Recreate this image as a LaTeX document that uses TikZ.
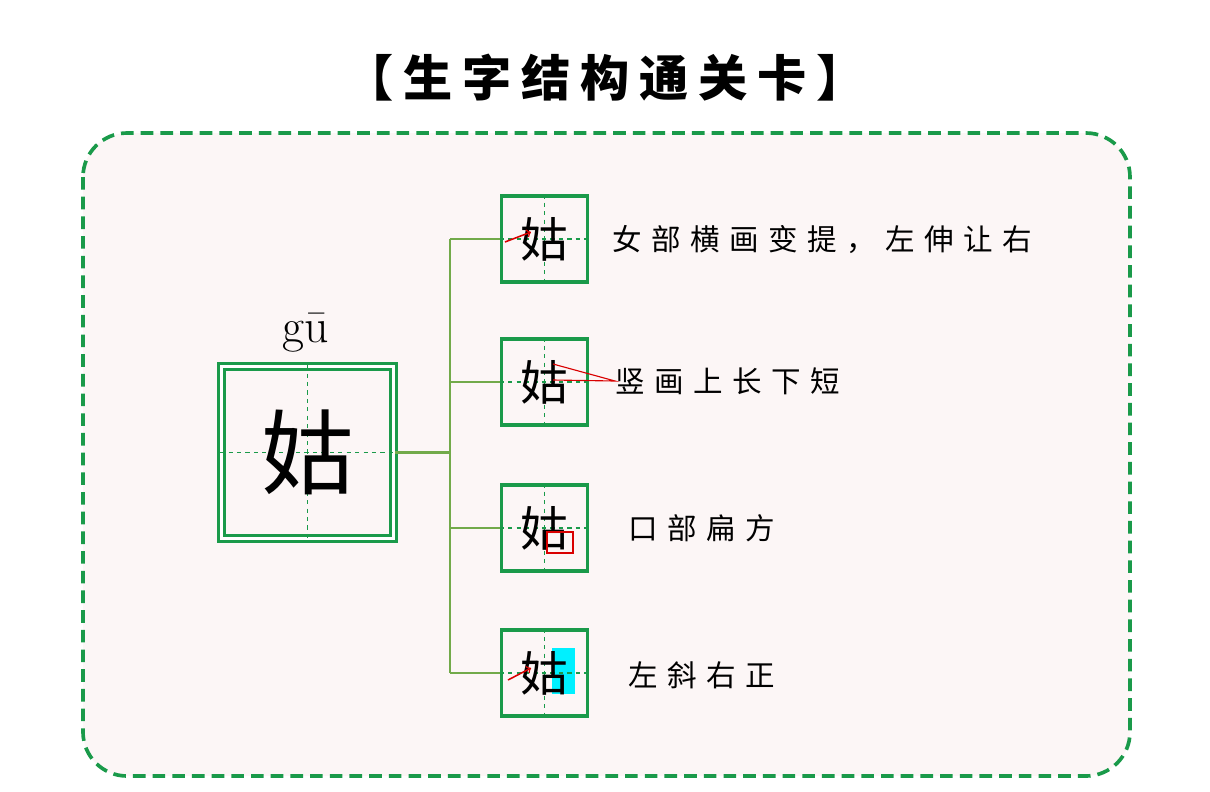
\documentclass[tikz,border=0pt]{standalone}
\usepackage{fontspec}
\usetikzlibrary{positioning}
\newfontfamily\cjk{Noto Sans CJK SC}
\newfontfamily\cjkwide[LetterSpace=32]{Noto Sans CJK SC}
\newfontfamily\cjktitle[LetterSpace=20]{Noto Sans CJK SC}
\definecolor{frameg}{HTML}{1A9A4A}
\definecolor{lineg}{HTML}{72AA4A}
\definecolor{paper}{HTML}{FCF6F6}
\definecolor{hilite}{HTML}{00F0FF}
\tikzset{
    grid box/.style={draw=frameg,line width=#1,minimum size=0.3cm,inner sep=0pt},
    cross/.style={frameg,dashed,line width=0.8pt},
    hint/.style={font=\cjkwide\fontsize{21}{21}\selectfont,anchor=west,inner sep=0pt},
    branch/.style={lineg,line width=2pt},
    redmark/.style={red!85!black,line width=1.1pt}
}
\begin{document}
\begin{tikzpicture}[x=0.025cm,y=-0.025cm]
\useasboundingbox (0,0) rectangle (1210,791);
% title
\node (title) at (605,78) {\cjktitle\fontsize{35}{35}\selectfont\bfseries 【生字结构通关卡】};
% card
\draw[frameg,dashed,dash pattern=on 9pt off 5pt,line width=2.6pt,fill=paper,rounded corners=1.1cm]
    (83,133) rectangle (1130,776);
% big character
\node[grid box=2pt,double,double distance=2.5pt,minimum width=4.3cm,minimum height=4.3cm] (big) at (307.5,452.5) {};
\draw[cross] (big.north) -- (big.south) (big.west) -- (big.east);
\node[font=\cjk\fontsize{66}{66}\selectfont] (bigc) at (big.center) {姑};
\node[font=\fontsize{34}{34}\selectfont] (py) at (306,333) {gū};
% small boxes
\foreach \i/\y in {1/239,2/382,3/528,4/673}{
    \node[grid box=2.4pt,minimum width=2.15cm,minimum height=2.15cm] (b\i) at (544.5,\y) {};
}
% highlight behind fourth character
\fill[hilite] (552,648) rectangle (575,694);
\foreach \i in {1,...,4}{
    \draw[cross] (b\i.north) -- (b\i.south) (b\i.west) -- (b\i.east);
    \node[font=\cjk\fontsize{34}{34}\selectfont] (c\i) at (b\i.center) {姑};
}
% connectors
\coordinate (fork) at (450,0);
\draw[branch] (big.east) -- (fork |- big.east);
\draw[branch] (fork |- b1.west) -- (fork |- b4.west);
\foreach \i in {1,...,4}{
    \draw[branch] (fork |- b\i.west) -- (b\i.west);
}
% hints
\node[hint] (t1) at (612,240) {女部横画变提，左伸让右};
\node[hint] (t2) at (615,381) {竖画上长下短};
\node[hint] (t3) at (628,528) {口部扁方};
\node[hint] (t4) at (628,675) {左斜右正};
% marks
\draw[redmark,->] (505,242) -- (531,232);
\draw[redmark,->] (508,680) -- (531,668);
\draw[redmark,line width=0.8pt] (553,364) -- (t2.west) -- (553,380);
\draw[redmark,line width=1.4pt] (547,532) rectangle (573,553);
\end{tikzpicture}
\end{document}
